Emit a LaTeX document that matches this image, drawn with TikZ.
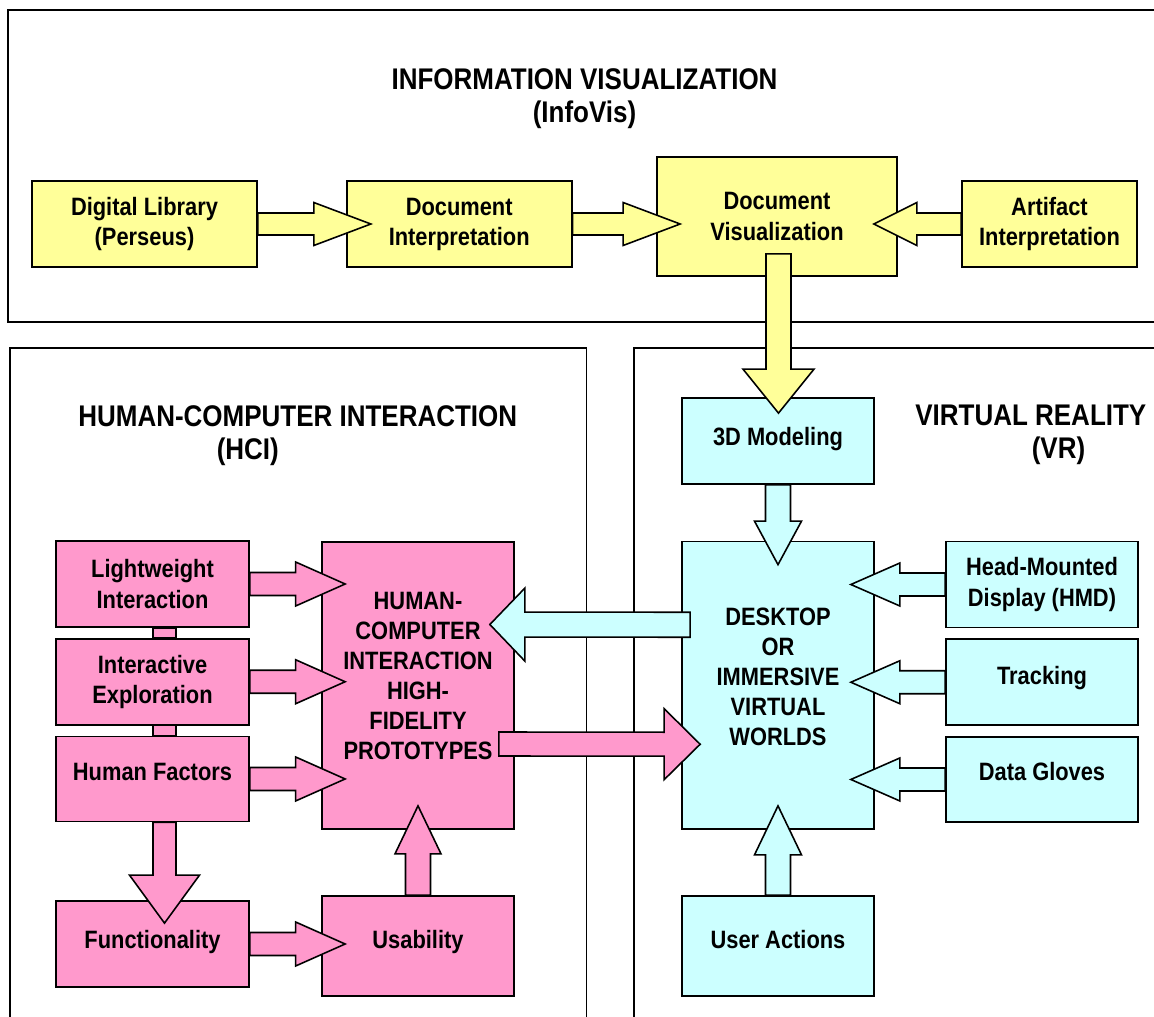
\documentclass[tikz,border=0pt]{standalone}
\usepackage{fontspec}
\setmainfont{Liberation Sans}[FakeStretch=0.87]
\usetikzlibrary{calc,positioning}

\definecolor{infoyellow}{HTML}{FFFF99}
\definecolor{hcipink}{HTML}{FF99CC}
\definecolor{vrcyan}{HTML}{CCFFFF}

% block arrow: start, tip, shaft half width, head half width, head length, style
\newcommand{\blockarrow}[6]{%
  \coordinate (ba-s) at (#1);
  \coordinate (ba-t) at (#2);
  \coordinate (ba-b) at ($(ba-t)!#5!(ba-s)$);
  \draw[#6] ($(ba-s)!#3!90:(ba-t)$) -- ($(ba-b)!#3!90:(ba-t)$) -- ($(ba-b)!#4!90:(ba-t)$)
    -- (ba-t) -- ($(ba-b)!#4!-90:(ba-t)$) -- ($(ba-b)!#3!-90:(ba-t)$) -- ($(ba-s)!#3!-90:(ba-t)$) -- cycle;
}

\begin{document}
\begin{tikzpicture}[x=0.02cm, y=-0.02cm,
  box/.style={draw, line width=1pt, align=center, inner sep=0pt, font=\fontsize{14.3}{17.1}\selectfont\bfseries},
  infobox/.style={box, fill=infoyellow},
  hcibox/.style={box, fill=hcipink},
  vrbox/.style={box, fill=vrcyan},
  frame/.style={line width=1pt},
  title/.style={inner sep=0pt, font=\fontsize{17}{18.8}\selectfont\bfseries},
  infoarrow/.style={draw, line width=0.9pt, line join=miter, fill=infoyellow},
  hciarrow/.style={draw, line width=0.9pt, line join=miter, fill=hcipink},
  vrarrow/.style={draw, line width=0.9pt, line join=miter, fill=vrcyan}]

  \useasboundingbox (0,0) rectangle (1154,1017);

  % Frames
  \draw[frame] (1170,10) -- (8,10) -- (8,322) -- (1170,322);
  \draw[frame] (10,1030) -- (10,348) -- (586.5,348) -- (586.5,1030);
  \draw[frame] (634,1030) -- (634,348) -- (1170,348);

  % Titles
  \node[title, anchor=north, align=center] (infotitle) at (584.5,68) {INFORMATION VISUALIZATION\\(InfoVis)};
  \node[title, anchor=north west, align=left] (hcititle) at (78,405) {HUMAN-COMPUTER INTERACTION\\\hspace*{2.77cm}(HCI)};
  \node[title, anchor=north west, align=left] (vrtitle) at (915,405) {VIRTUAL REALITY\\\hspace*{2.33cm}(VR)};

  % InfoVis row
  \node[infobox, minimum width=4.5cm, minimum height=1.72cm] (dlib) at (144.5,224) {Digital Library\\(Perseus)};
  \node[infobox, minimum width=4.5cm, minimum height=1.72cm, right=1.76cm of dlib] (dint) {Document\\Interpretation};
  \node[infobox, minimum width=4.8cm, minimum height=2.38cm] (dvis) at (777,216.5) {Document\\Visualization};
  \node[infobox, minimum width=3.5cm, minimum height=1.72cm] (aint) at (1049.5,224) {Artifact\\Interpretation};

  % VR boxes
  \node[vrbox, minimum width=3.84cm, minimum height=1.72cm, text depth=5.3pt] (model) at (778,441) {3D Modeling};
  \node[vrbox, minimum width=3.84cm, minimum height=5.75cm, text depth=10pt] (desk) at (778,685.25) {DESKTOP\\OR\\IMMERSIVE\\VIRTUAL\\WORLDS};
  \node[vrbox, minimum width=3.84cm, minimum height=1.72cm] (hmd) at (1042,584.5) {Head-Mounted\\Display (HMD)};
  \node[vrbox, minimum width=3.84cm, minimum height=1.72cm, text depth=7.6pt, below=0.2cm of hmd] (track) {Tracking};
  \node[vrbox, minimum width=3.84cm, minimum height=1.7cm, text depth=9pt, below=0.2cm of track] (glove) {Data Gloves};
  \node[vrbox, minimum width=3.84cm, minimum height=2cm, text depth=7pt] (user) at (778,946) {User Actions};

  % HCI boxes
  \node[hcibox, minimum width=3.86cm, minimum height=1.72cm] (light) at (152.5,584) {Lightweight\\Interaction};
  \node[hcibox, minimum width=3.86cm, minimum height=1.72cm, below=0.2cm of light] (explore) {Interactive\\Exploration};
  \node[hcibox, minimum width=3.86cm, minimum height=1.7cm, text depth=8pt, below=0.2cm of explore] (factors) {Human Factors};
  \node[hcibox, minimum width=3.86cm, minimum height=1.72cm, text depth=5.3pt] (func) at (152.5,944) {Functionality};
  \node[hcibox, minimum width=3.84cm, minimum height=5.74cm, text depth=11pt] (proto) at (418,685.5) {HUMAN-\\COMPUTER\\INTERACTION\\HIGH-\\FIDELITY\\PROTOTYPES};
  \node[hcibox, minimum width=3.84cm, minimum height=2cm, text depth=7.5pt] (usab) at (418,946) {Usability};

  % Links between stacked boxes
  \draw[hciarrow] ($(light.south)+(0.5,0)$) rectangle ($(explore.north)+(23.5,0)$);
  \draw[hciarrow] ($(explore.south)+(0.5,0)$) rectangle ($(factors.north)+(23.5,0)$);

  % InfoVis arrows
  \blockarrow{dlib.east}{$(dint.west)+(25,0)$}{0.22cm}{0.43cm}{1.14cm}{infoarrow}
  \blockarrow{dint.east}{$(dvis.west |- dint.east)+(24,0)$}{0.22cm}{0.43cm}{1.14cm}{infoarrow}
  \blockarrow{aint.west}{$(dvis.east |- aint.west)+(-24,0)$}{0.22cm}{0.43cm}{0.86cm}{infoarrow}
  \blockarrow{$(dvis.south)+(1.5,-23)$}{$(model.north)+(0.5,16)$}{0.25cm}{0.71cm}{0.88cm}{infoarrow}

  % VR arrows
  \blockarrow{model.south}{$(desk.north)+(0,24)$}{0.25cm}{0.47cm}{0.87cm}{vrarrow}
  \blockarrow{user.north}{$(desk.south)+(0,-24)$}{0.25cm}{0.47cm}{0.98cm}{vrarrow}
  \blockarrow{hmd.west}{$(desk.east |- hmd.west)+(-24,0)$}{0.23cm}{0.43cm}{0.98cm}{vrarrow}
  \blockarrow{track.west}{$(desk.east |- track.west)+(-24,0)$}{0.23cm}{0.43cm}{0.98cm}{vrarrow}
  \blockarrow{glove.west}{$(desk.east |- glove.west)+(-24,0)$}{0.23cm}{0.43cm}{0.98cm}{vrarrow}
  \blockarrow{$(desk.west)+(9,-60.5)$}{$(proto.east)+(-25,-61)$}{0.25cm}{0.73cm}{0.7cm}{vrarrow}

  % HCI arrows
  \blockarrow{$(proto.east)+(-16,58.5)$}{$(desk.west)+(19,59)$}{0.24cm}{0.71cm}{0.72cm}{hciarrow}
  \blockarrow{light.east}{$(proto.west |- light.east)+(24,0)$}{0.23cm}{0.44cm}{0.99cm}{hciarrow}
  \blockarrow{explore.east}{$(proto.west |- explore.east)+(24,0)$}{0.23cm}{0.44cm}{0.99cm}{hciarrow}
  \blockarrow{factors.east}{$(proto.west |- factors.east)+(24,0)$}{0.23cm}{0.44cm}{0.99cm}{hciarrow}
  \blockarrow{func.east}{$(usab.west |- func.east)+(24,0)$}{0.23cm}{0.44cm}{0.99cm}{hciarrow}
  \blockarrow{usab.north}{$(proto.south)+(0,-24)$}{0.25cm}{0.46cm}{0.96cm}{hciarrow}
  \blockarrow{$(factors.south)+(12,0)$}{$(func.north)+(12,23)$}{0.23cm}{0.7cm}{0.96cm}{hciarrow}

\end{tikzpicture}
\end{document}
